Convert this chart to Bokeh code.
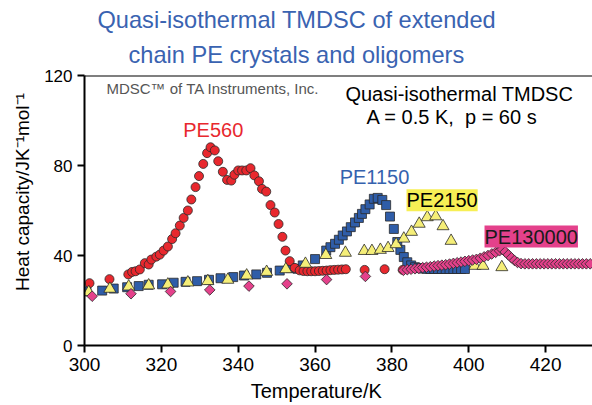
from math import pi

from bokeh.plotting import figure
from bokeh.models import Label, Title, Span, FixedTicker
from bokeh.embed import file_html
from bokeh.resources import INLINE

# Quasi-isothermal TMDSC heat capacity, temperature in K, Cp in J/(K mol)
t_pe560 = [301.3, 306.5, 311.4, 312.4, 313.3, 314.4, 315.7, 316.7, 317.4, 318.7,
           319.6, 320.6, 321.7, 322.8, 323.7, 324.8, 325.8, 326.9, 327.8, 328.9,
           329.8, 330.9, 331.9, 332.8, 333.9, 334.8, 336.0, 337.1, 338.2, 339.0,
           340.0, 341.0, 342.1, 343.2, 344.2, 345.4, 346.2, 347.3, 348.4, 349.5,
           350.5, 351.5, 352.3, 353.4, 354.7, 356.0, 357.0, 358.0, 359.0, 360.0,
           361.0, 362.0, 363.0, 364.0, 365.0, 366.0, 367.0, 368.0, 372.9, 378.1,
           382.8]
cp_pe560 = [27.7, 29.5, 31.6, 32.7, 33.0, 33.8, 36.6, 36.0, 38.2, 39.5,
            40.4, 42.2, 44.0, 47.3, 49.9, 53.3, 56.7, 60.0, 64.9, 70.4,
            75.3, 80.7, 85.5, 88.1, 86.7, 81.9, 77.2, 73.6, 73.3, 75.9,
            77.8, 77.8, 77.8, 78.8, 75.6, 73.0, 69.6, 68.4, 62.4, 59.1,
            54.0, 48.3, 42.2, 37.5, 34.5, 33.4, 33.1, 33.0, 33.0, 33.0,
            33.1, 33.2, 33.3, 33.5, 33.6, 33.7, 33.8, 33.9, 33.6, 33.9,
            33.6]

t_pe1150 = [300.5, 304.6, 307.6, 311.1, 314.1, 316.7, 320.2, 323.2, 326.3, 329.3,
            332.4, 335.4, 338.7, 341.5, 344.7, 347.5, 350.8, 353.6, 355.4, 356.8,
            360.0, 362.9, 364.0, 365.2, 366.2, 367.2, 368.3, 369.3, 370.4, 371.4,
            372.2, 373.1, 374.2, 375.3, 376.3, 377.5, 378.5, 379.5, 380.5, 381.4,
            382.2, 383.1, 384.0, 385.0, 386.0, 387.0, 388.0, 389.0, 390.0, 391.0,
            392.0, 393.0, 394.0, 395.0, 396.0, 397.0, 398.0, 399.0]
cp_pe1150 = [24.1, 24.4, 25.3, 25.9, 26.4, 27.0, 27.2, 27.9, 28.3, 28.6,
             29.2, 29.9, 30.4, 31.1, 31.6, 32.3, 33.3, 34.4, 34.1, 35.6,
             38.4, 42.2, 43.7, 45.2, 47.0, 48.9, 50.7, 52.6, 54.7, 56.7,
             58.5, 60.6, 62.7, 65.2, 65.6, 64.7, 62.4, 57.3, 51.8, 46.0,
             42.5, 39.3, 37.0, 35.6, 34.8, 34.4, 34.2, 34.1, 34.0, 34.0,
             34.0, 34.0, 34.0, 34.0, 34.0, 34.0, 34.0, 34.0]

t_pe2150 = [301.1, 306.6, 311.5, 316.7, 321.7, 326.9, 332.1, 337.3, 342.2, 347.4,
            352.4, 357.5, 362.8, 367.9, 372.8, 374.8, 377.0, 379.0, 381.1, 383.1,
            385.1, 387.1, 389.2, 391.4, 393.3, 395.4, 401.6, 403.7, 408.6]
cp_pe2150 = [23.7, 25.2, 26.2, 26.7, 27.1, 28.0, 28.6, 29.2, 31.1, 32.7,
             33.9, 36.3, 40.2, 41.2, 42.0, 42.0, 42.5, 43.3, 45.0, 47.5,
             50.5, 54.1, 57.0, 57.4, 53.0, 46.5, 35.4, 35.4, 34.8]

t_pe130000 = [302.0, 312.1, 322.4, 332.6, 342.8, 352.7, 363.0, 373.1,
              383.0, 384.0, 385.0, 386.0, 387.0, 388.0, 389.0, 390.0, 391.0, 392.0,
              393.0, 394.0, 395.0, 396.0, 397.0, 398.0, 399.0, 400.0, 401.0, 402.0,
              403.0, 404.0, 405.0, 406.0, 407.0, 408.0, 408.7, 409.5, 410.3, 411.1,
              411.9, 412.7, 413.6, 414.6, 415.6, 416.6, 417.6, 418.6, 419.6, 420.6,
              421.6, 422.6, 423.6, 424.6, 425.6, 426.6, 427.6, 428.6, 429.6, 430.6,
              431.6]
cp_pe130000 = [21.9, 23.0, 24.0, 24.7, 26.4, 27.4, 29.3, 30.7,
               33.4, 33.7, 33.9, 34.1, 34.3, 34.6, 34.8, 35.0, 35.3, 35.5,
               35.7, 35.9, 36.2, 36.5, 36.8, 37.1, 37.4, 37.7, 38.0, 38.3,
               38.8, 39.4, 40.0, 40.7, 41.4, 42.1, 42.7, 41.6, 40.3, 39.0,
               37.8, 36.9, 36.4, 36.3, 36.3, 36.3, 36.3, 36.3, 36.3, 36.3,
               36.3, 36.3, 36.3, 36.3, 36.3, 36.3, 36.3, 36.3, 36.3, 36.3,
               36.3]

x_ticks = [300, 320, 340, 360, 380, 400, 420]
y_ticks = [0, 40, 80, 120]

FONT = "Liberation Sans"
NBSP = "\u00a0"

p = figure(width=592, height=405, output_backend="svg", toolbar_location=None,
           x_range=(300, 432.2), y_range=(0, 120),
           min_border_left=84, min_border_right=0,
           min_border_top=75, min_border_bottom=60,
           title="Quasi-isothermal TMDSC of extended")

title_style = dict(text_font=FONT, text_font_size="23.6px", text_font_style="normal",
                   text_color="#3a63b1", align="left")
for k, v in title_style.items():
    setattr(p.title, k, v)
p.title.offset = 13
p.title.standoff = 0
p.add_layout(Title(text="chain PE crystals and oligomers", offset=44, standoff=15,
                   **title_style), "above")

p.grid.visible = False
p.outline_line_color = None
p.background_fill_color = "white"
p.border_fill_color = "white"
p.add_layout(Span(location=120, dimension="width", line_color="black", line_width=2))

for ax in (p.xaxis[0], p.yaxis[0]):
    ax.axis_line_width = 2
    ax.axis_line_color = "black"
    ax.major_tick_line_width = 2
    ax.major_tick_line_color = "black"
    ax.major_tick_out = 7
    ax.major_tick_in = 0
    ax.minor_tick_line_color = None
    ax.major_label_text_font = FONT
    ax.major_label_text_color = "black"
    ax.axis_label_text_font = FONT
    ax.axis_label_text_font_style = "normal"
    ax.axis_label_text_color = "black"

p.xaxis.ticker = FixedTicker(ticks=x_ticks)
p.yaxis.ticker = FixedTicker(ticks=y_ticks)
p.xaxis.major_label_text_font_size = "19px"
p.yaxis.major_label_text_font_size = "17px"
p.xaxis.axis_label = "Temperature/K" + NBSP * 8
p.xaxis.axis_label_text_font_size = "20px"
p.xaxis.axis_label_standoff = 6
p.yaxis.axis_label = NBSP * 7 + "Heat capacity/JK\u207b\u00b9mol\u207b\u00b9"
p.yaxis.axis_label_text_font_size = "19px"
p.yaxis.axis_label_standoff = 8

edge = dict(line_color="#2a2a2a", line_width=0.8)
p.scatter(t_pe1150, cp_pe1150, marker="square", size=9, fill_color="#2f5da8", **edge)
p.scatter(t_pe560, cp_pe560, marker="circle", size=9, fill_color="#e8282e", **edge)
p.scatter(t_pe2150, cp_pe2150, marker="triangle", size=12, fill_color="#f5ee78", **edge)
p.scatter(t_pe130000, cp_pe130000, marker="square", angle=pi / 4, size=7.5,
          fill_color="#e4418b", **edge)

label_style = dict(text_font=FONT, text_font_size="20px", text_baseline="alphabetic")
p.add_layout(Label(x=325.7, y=96.0, text="PE560", text_color="#e8282e", **label_style))
p.add_layout(Label(x=366.4, y=75.0, text="PE1150", text_color="#3562ae", **label_style))
p.add_layout(Label(x=383.8, y=64.6, text="PE2150", text_color="black",
                   background_fill_color="#f7ef55", **label_style))
p.add_layout(Label(x=404.1, y=48.4, text="PE130000", text_color="#1a1a1a",
                   background_fill_color="#e4418b", **label_style))

p.add_layout(Label(x=305.7, y=114.1, text="MDSC\u2122 of TA Instruments, Inc.",
                   text_color="#555555", text_font=FONT, text_font_size="15px",
                   text_baseline="alphabetic"))
p.add_layout(Label(x=367.9, y=112.0, text="Quasi-isothermal TMDSC",
                   text_color="black", **label_style))
p.add_layout(Label(x=373.4, y=101.6, text="A = 0.5 K," + NBSP + " p = 60 s",
                   text_color="black", **label_style))

open("out.html", "w").write(file_html(p, INLINE))
